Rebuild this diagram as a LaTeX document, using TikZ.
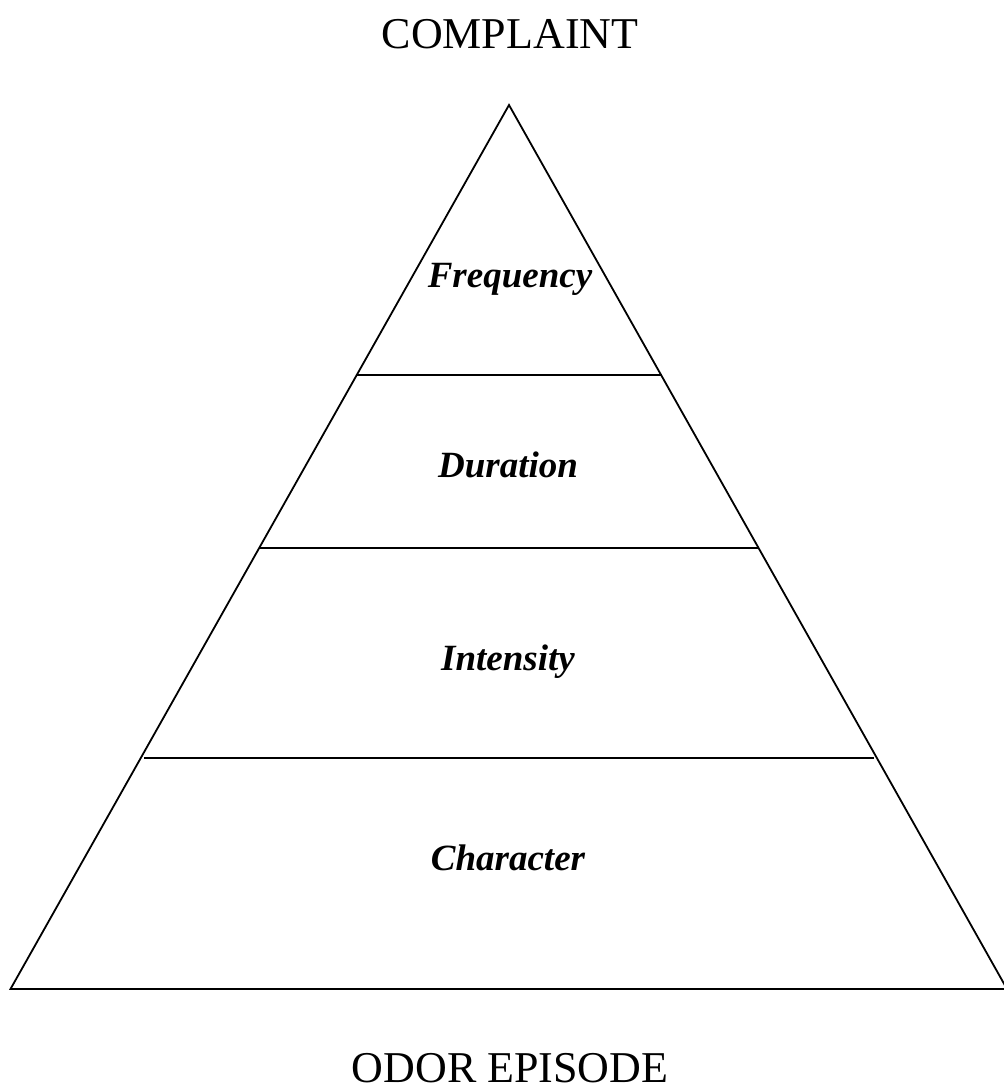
\documentclass[tikz,border=0pt]{standalone}
\usepackage{fontspec}
\setmainfont{Liberation Serif}
\begin{document}
\begin{tikzpicture}[x=1pt,y=-1pt,
  edge/.style={line width=1.8pt,line join=miter},
  title/.style={font=\fontsize{44}{48}\selectfont,anchor=base,inner sep=0pt},
  tier/.style={font=\fontsize{37}{40}\selectfont\bfseries\itshape,anchor=base,inner sep=0pt}]
\useasboundingbox (0,0) rectangle (1004,1090);
\coordinate (apex) at (509,105);
\coordinate (bl) at (10.5,989);
\coordinate (br) at (1007,989);
\draw[edge] (bl) -- (apex) -- (br) -- cycle;
\coordinate (l1a) at (356,375); \coordinate (l1b) at (662,375);
\coordinate (l2a) at (260,548); \coordinate (l2b) at (758,548);
\coordinate (l3a) at (144,758); \coordinate (l3b) at (874,758);
\draw[edge] (l1a) -- (l1b);
\draw[edge] (l2a) -- (l2b);
\draw[edge] (l3a) -- (l3b);
\node[title] (top) at (510,48) {COMPLAINT};
\node[title] (bot) at (510,1082) {ODOR EPISODE};
\node[tier] (freq) at (510,287) {Frequency};
\node[tier] (dur) at (508,477) {Duration};
\node[tier] (int) at (508,670) {Intensity};
\node[tier] (char) at (508,870) {Character};
\end{tikzpicture}
\end{document}
